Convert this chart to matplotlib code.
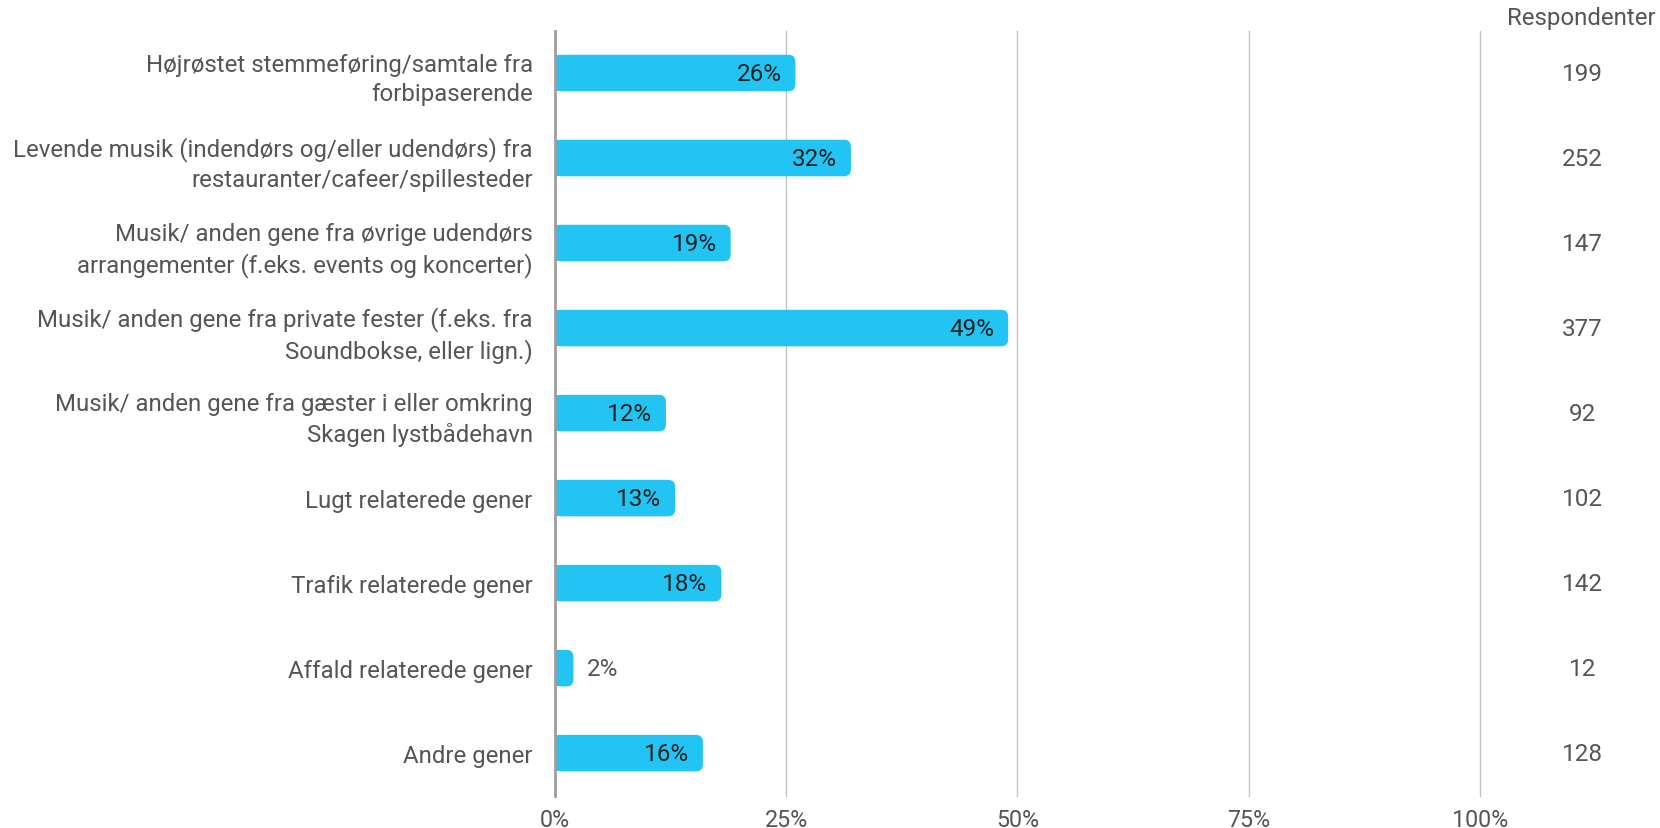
import matplotlib.pyplot as plt
from matplotlib.patches import FancyBboxPatch, Rectangle

categories = [
    "Højrøstet stemmeføring/samtale fra\nforbipaserende",
    "Levende musik (indendørs og/eller udendørs) fra\nrestauranter/cafeer/spillesteder",
    "Musik/ anden gene fra øvrige udendørs\narrangementer (f.eks. events og koncerter)",
    "Musik/ anden gene fra private fester (f.eks. fra\nSoundbokse, eller lign.)",
    "Musik/ anden gene fra gæster i eller omkring\nSkagen lystbådehavn",
    "Lugt relaterede gener",
    "Trafik relaterede gener",
    "Affald relaterede gener",
    "Andre gener",
]
pct = [26, 32, 19, 49, 12, 13, 18, 2, 16]
respondents = [199, 252, 147, 377, 92, 102, 142, 12, 128]
xticks = [0, 25, 50, 75, 100]
xtick_labels = ["0%", "25%", "50%", "75%", "100%"]

plt.rcParams['font.family'] = ['Roboto', 'DejaVu Sans']

BAR = "#22c4f4"
GREY = "#555555"
DARK = "#212121"

W, H, DPI = 16.6, 8.29, 100
ax_box = [0.3343, 0.039, 0.5572, 0.923]

fig = plt.figure(figsize=(W, H), dpi=DPI)
ax = fig.add_axes(ax_box)
n = len(categories)
ax.set_xlim(0, 100)
ax.set_ylim(n - 0.5, -0.5)

# data units per pixel
ux = 100 / (W * DPI * ax_box[2])
uy = n / (H * DPI * ax_box[3])

bar_h = 0.43
r = 7 * ux
for i, v in enumerate(pct):
    y0 = i - bar_h / 2
    ax.add_patch(FancyBboxPatch((0, y0), v, bar_h,
                                boxstyle=f"round,pad=0,rounding_size={r}",
                                mutation_aspect=(7 * uy) / r,
                                fc=BAR, ec="none", lw=0, zorder=3))
    # square off the left end
    ax.add_patch(Rectangle((0, y0), min(r, v / 2), bar_h,
                           fc=BAR, ec="none", lw=0, zorder=3))
    if v >= 5:
        ax.text(v - 14 * ux, i, f"{v}%", ha="right", va="center",
                fontsize=17.5, color=DARK, zorder=4)
    else:
        ax.text(v + 13 * ux, i, f"{v}%", ha="left", va="center",
                fontsize=17.5, color=GREY, zorder=4)
    ax.text(100 + (1582 - 1479.5) * ux, i, str(respondents[i]),
            ha="center", va="center", fontsize=17.5, color=GREY, clip_on=False)

for t in xticks[1:]:
    ax.axvline(t, color="#c2c2c2", lw=1, zorder=1, clip_on=False)
ax.axvline(0, color="#9e9e9e", lw=2, zorder=5, clip_on=False)

ax.set_yticks(range(n))
ax.set_yticklabels(categories, fontsize=17.25, color=GREY, linespacing=1.38)
ax.set_xticks(xticks)
ax.set_xticklabels(xtick_labels, fontsize=16.75, color=GREY)
ax.tick_params(axis="y", length=0, pad=16)
ax.tick_params(axis="x", length=0, pad=9)
for s in ax.spines.values():
    s.set_visible(False)

fig.text(1581 / (W * DPI), 1 - 19 / (H * DPI), "Respondenter",
         ha="center", va="center", fontsize=17.3, color=GREY)

fig.savefig("out.png", dpi=DPI)
